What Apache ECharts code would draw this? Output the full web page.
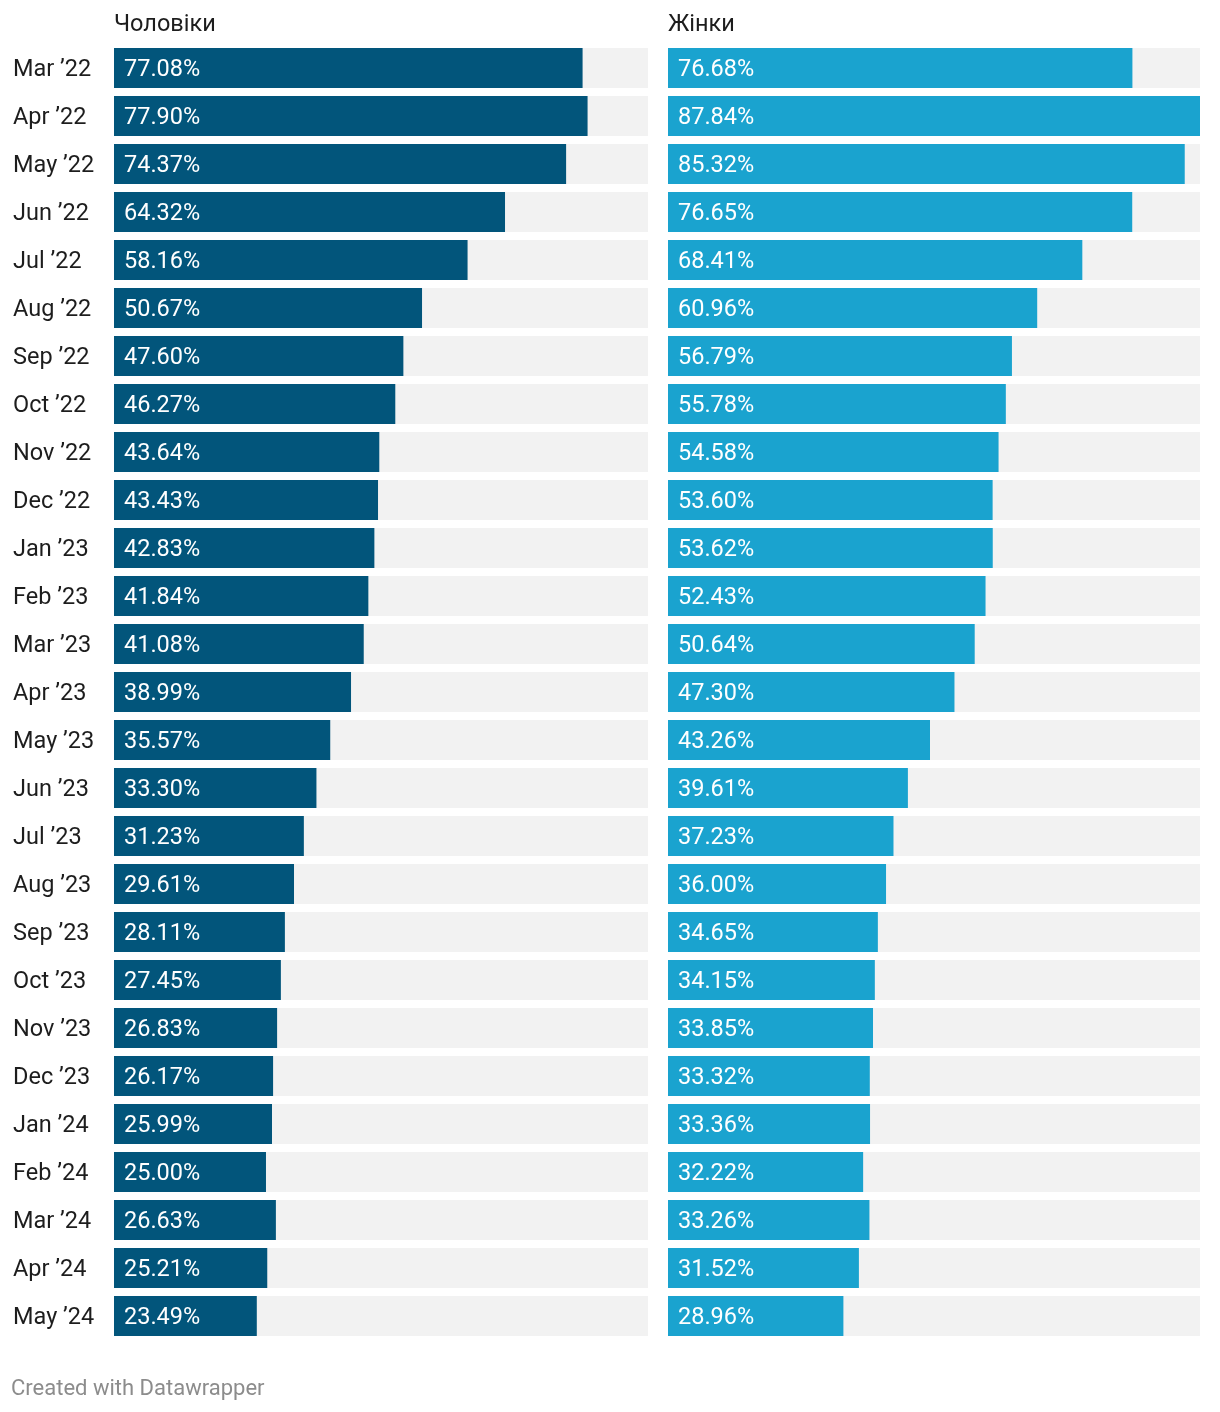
<!DOCTYPE html>
<html>
<head>
<meta charset="utf-8">
<script src="https://cdn.jsdelivr.net/npm/echarts@6/dist/echarts.min.js"></script>
<style>html,body{margin:0;padding:0;background:#fff}#c{width:1220px;height:1412px}</style>
</head>
<body>
<div id="c"></div>
<script>
const categories = ["Mar ’22","Apr ’22","May ’22","Jun ’22","Jul ’22","Aug ’22","Sep ’22","Oct ’22","Nov ’22","Dec ’22","Jan ’23","Feb ’23","Mar ’23","Apr ’23","May ’23","Jun ’23","Jul ’23","Aug ’23","Sep ’23","Oct ’23","Nov ’23","Dec ’23","Jan ’24","Feb ’24","Mar ’24","Apr ’24","May ’24"];
const men = [77.08,77.90,74.37,64.32,58.16,50.67,47.60,46.27,43.64,43.43,42.83,41.84,41.08,38.99,35.57,33.30,31.23,29.61,28.11,27.45,26.83,26.17,25.99,25.00,26.63,25.21,23.49];
const women = [76.68,87.84,85.32,76.65,68.41,60.96,56.79,55.78,54.58,53.60,53.62,52.43,50.64,47.30,43.26,39.61,37.23,36.00,34.65,34.15,33.85,33.32,33.36,32.22,33.26,31.52,28.96];
const titles = ["Чоловіки","Жінки"];
const footer = "Created with Datawrapper";

const maxVal = Math.max(...men, ...women);
const font = "Roboto, 'Noto Sans', sans-serif";
const chart = echarts.init(document.getElementById('c'), null, {renderer:'canvas'});
const lbl = {show:true, position:'insideLeft', distance:10, offset:[0,2], color:'#fff', fontSize:23.5, fontFamily:font,
  formatter: p => p.value.toFixed(2) + '%'};
chart.setOption({
  animation:false,
  title:[
    {text:titles[0], left:114, top:13, textStyle:{fontSize:23.5, fontWeight:'normal', color:'#1d1d1d', fontFamily:font}, padding:0},
    {text:titles[1], left:668, top:13, textStyle:{fontSize:23.5, fontWeight:'normal', color:'#1d1d1d', fontFamily:font}, padding:0},
    {text:footer, left:11, top:1378, textStyle:{fontSize:22, fontWeight:'normal', color:'#8c8c8c', fontFamily:font}, padding:0}
  ],
  grid:[
    {left:114, top:44, width:534, height:1296},
    {left:668, top:44, width:532, height:1296}
  ],
  xAxis:[
    {gridIndex:0, type:'value', min:0, max:maxVal, show:false},
    {gridIndex:1, type:'value', min:0, max:maxVal, show:false}
  ],
  yAxis:[
    {gridIndex:0, type:'category', data:categories, inverse:true,
     axisLine:{show:false}, axisTick:{show:false}, splitLine:{show:false},
     axisLabel:{align:'left', margin:101, fontSize:23.5, color:'#1d1d1d', fontFamily:font,
       formatter: v => '{a|' + v + '}',
       rich:{a:{fontSize:23.5, color:'#1d1d1d', fontFamily:font, padding:[4,0,0,0]}}}},
    {gridIndex:1, type:'category', data:categories, inverse:true, show:false}
  ],
  series:[
    {type:'bar', xAxisIndex:0, yAxisIndex:0, data:men, barWidth:40, itemStyle:{color:'#02557b'},
     showBackground:true, backgroundStyle:{color:'#f2f2f2'}, label:lbl},
    {type:'bar', xAxisIndex:1, yAxisIndex:1, data:women, barWidth:40, itemStyle:{color:'#1aa3cf'},
     showBackground:true, backgroundStyle:{color:'#f2f2f2'}, label:lbl}
  ]
});
</script>
</body>
</html>
